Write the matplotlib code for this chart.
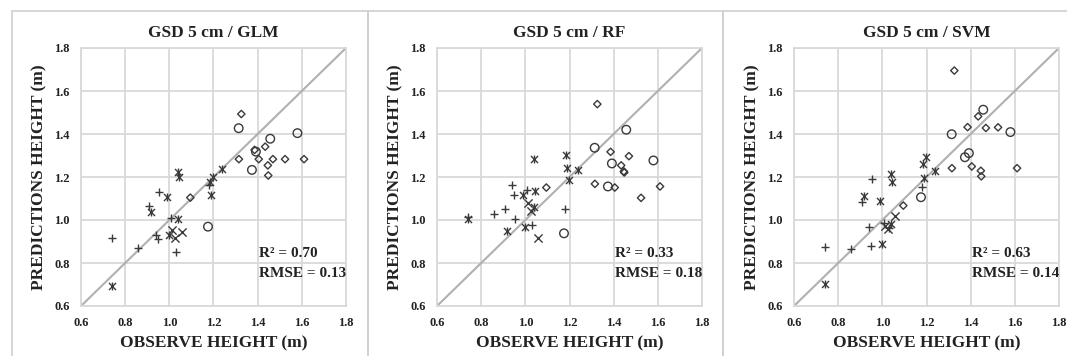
import matplotlib.pyplot as plt
from matplotlib.patches import Rectangle

plt.rcParams['font.family'] = ['Liberation Serif', 'DejaVu Serif']
plt.rcParams['font.weight'] = 'bold'

# Observed heights per marker group (same in all three panels)
obs_plus = [0.74, 0.856, 0.906, 0.94, 0.947, 0.953, 1.006, 1.028, 1.178]
obs_star = [0.74, 0.919, 0.991, 0.999, 1.038, 1.04, 1.042, 1.185, 1.19, 1.198, 1.24]
obs_x = [1.014, 1.025, 1.059]
obs_diamond = [1.095, 1.326, 1.315, 1.386, 1.405, 1.434, 1.446, 1.448, 1.469, 1.524, 1.610]
obs_circle = [1.175, 1.314, 1.374, 1.392, 1.457, 1.580]

# Predicted heights, GLM
glm_plus = [0.914, 0.869, 1.063, 0.931, 0.910, 1.129, 1.008, 0.853, 1.163]
glm_star = [0.695, 1.035, 1.108, 0.931, 1.004, 1.221, 1.199, 1.179, 1.117, 1.202, 1.236]
glm_x = [0.954, 0.918, 0.943]
glm_diamond = [1.104, 1.493, 1.283, 1.326, 1.283, 1.341, 1.254, 1.207, 1.283, 1.283, 1.283]
glm_circle = [0.969, 1.427, 1.233, 1.318, 1.378, 1.404]

# Predicted heights, RF
rf_plus = [1.015, 1.027, 1.050, 1.163, 1.117, 1.005, 1.140, 0.977, 1.053]
rf_star = [1.005, 0.951, 1.118, 0.969, 1.059, 1.283, 1.137, 1.303, 1.244, 1.187, 1.233]
rf_x = [1.081, 1.044, 0.914]
rf_diamond = [1.151, 1.539, 1.168, 1.317, 1.151, 1.254, 1.226, 1.221, 1.297, 1.103, 1.156]
rf_circle = [0.938, 1.336, 1.156, 1.263, 1.420, 1.277]

# Predicted heights, SVM
svm_plus = [0.873, 0.865, 1.086, 0.969, 0.879, 1.193, 0.988, 0.965, 1.153]
svm_star = [0.704, 1.112, 1.087, 0.887, 0.982, 1.215, 1.176, 1.261, 1.195, 1.292, 1.229]
svm_x = [0.970, 0.960, 1.017]
svm_diamond = [1.067, 1.695, 1.241, 1.432, 1.249, 1.482, 1.229, 1.203, 1.428, 1.431, 1.241]
svm_circle = [1.106, 1.399, 1.292, 1.311, 1.513, 1.409]

titles = ['GSD 5 cm / GLM', 'GSD 5 cm / RF', 'GSD 5 cm / SVM']
r2 = ['0.70', '0.33', '0.63']
rmse = ['0.13', '0.18', '0.14']
preds = [
    (glm_plus, glm_star, glm_x, glm_diamond, glm_circle),
    (rf_plus, rf_star, rf_x, rf_diamond, rf_circle),
    (svm_plus, svm_star, svm_x, svm_diamond, svm_circle),
]
ticks = [0.6, 0.8, 1.0, 1.2, 1.4, 1.6, 1.8]

W, H = 1067, 356
fig = plt.figure(figsize=(W / 100, H / 100), dpi=100)

# panel frames (bottom edge runs off the picture)
frames = [(12, 11, 356), (368, 11, 355), (723, 11, 360)]
for fx, fy, fw in frames:
    fig.patches.append(Rectangle((fx / W, -0.1), fw / W, 1.1 - fy / H, transform=fig.transFigure,
                                 fill=False, edgecolor='#d0d0d0', linewidth=1.2))

axes_left = [81, 437, 794]
mk = '#3a3a3a'
for i, left in enumerate(axes_left):
    ax = fig.add_axes([left / W, (H - 306) / H, 265 / W, 258 / H])
    p_plus, p_star, p_x, p_dia, p_circ = preds[i]
    ax.plot([0.6, 1.8], [0.6, 1.8], color='#b0b0b0', linewidth=1.5, zorder=1)
    ax.scatter(obs_plus, p_plus, marker='+', s=40, color=mk, linewidths=1.0, zorder=3)
    # star marker: an x with a bar through it
    ax.scatter(obs_star, p_star, marker='x', s=26, color=mk, linewidths=1.0, zorder=3)
    ax.scatter(obs_star, p_star, marker='|', s=26, color=mk, linewidths=1.0, zorder=3)
    ax.scatter(obs_x, p_x, marker='x', s=35, color=mk, linewidths=1.0, zorder=3)
    ax.scatter(obs_diamond, p_dia, marker='D', s=14, facecolors='none', edgecolors=mk,
               linewidths=1.0, zorder=3)
    ax.scatter(obs_circle, p_circ, marker='o', s=38, facecolors='none', edgecolors=mk,
               linewidths=1.0, zorder=3)
    ax.set_xlim(0.6, 1.8)
    ax.set_ylim(0.6, 1.8)
    ax.set_xticks(ticks)
    ax.set_yticks(ticks)
    ax.set_xticklabels([f'{t:.1f}' for t in ticks], fontsize=9, fontweight='bold')
    ax.set_yticklabels([f'{t:.1f}' for t in ticks], fontsize=9, fontweight='bold')
    ax.tick_params(length=0, pad=8, colors='#222222')
    ax.grid(True, color='#d9d9d9', linewidth=1.3)
    ax.set_axisbelow(True)
    for s in ax.spines.values():
        s.set_color('#d9d9d9')
        s.set_linewidth(1.3)
    ax.text(1.405, 0.845, f'R\u00b2 = {r2[i]}', fontsize=11, fontweight='bold', va='center',
            color='#222222')
    ax.text(1.405, 0.749, f'RMSE = {rmse[i]}', fontsize=11, fontweight='bold', va='center',
            color='#222222')
    cx = (left + 132.5) / W
    fig.text(cx, 1 - 33 / H, titles[i], ha='center', va='center', fontsize=12.5,
             fontweight='bold', color='#222222')
    fig.text(cx, 1 - 343 / H, 'OBSERVE HEIGHT (m)', ha='center', va='center', fontsize=12.5,
             fontweight='bold', color='#222222')
    fig.text((left - 42) / W, 1 - 177 / H, 'PREDICTIONS HEIGHT (m)', ha='center', va='center',
             rotation=90, fontsize=12.5, fontweight='bold', color='#222222')

fig.savefig('out.png', dpi=100)
